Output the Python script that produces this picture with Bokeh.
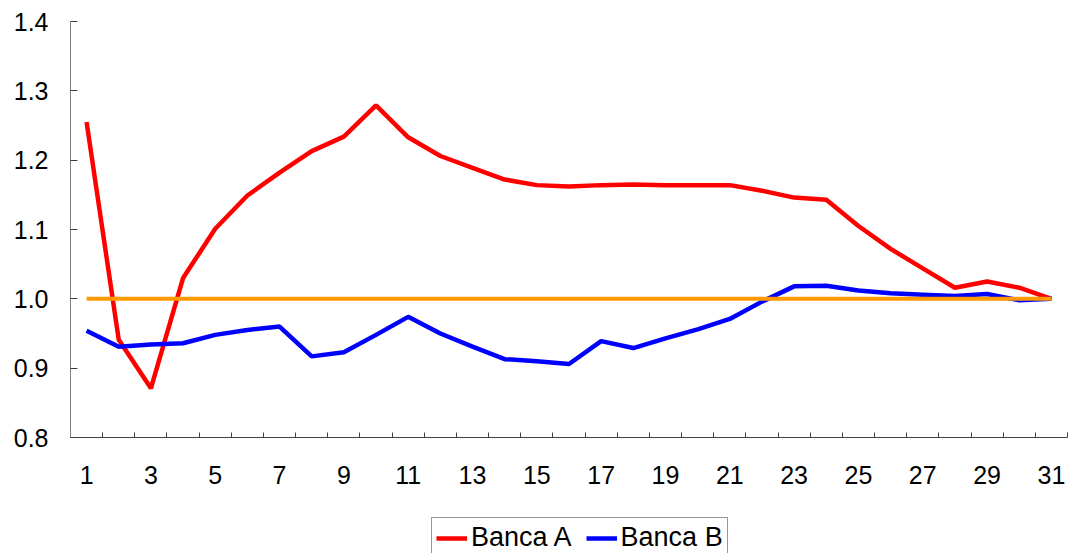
from bokeh.plotting import figure
from bokeh.layouts import column
from bokeh.models import Range1d, FixedTicker, Legend, LegendItem, CustomJSTickFormatter
from bokeh.embed import file_html
from bokeh.resources import INLINE

days = list(range(1, 32))
banca_a = [1.255, 0.941, 0.871, 1.030, 1.101, 1.149, 1.182, 1.213, 1.234, 1.279,
           1.233, 1.206, 1.189, 1.172, 1.164, 1.162, 1.164, 1.165, 1.164, 1.164,
           1.164, 1.156, 1.146, 1.143, 1.105, 1.072, 1.044, 1.016, 1.025, 1.016, 1.000]
banca_b = [0.954, 0.931, 0.934, 0.936, 0.948, 0.955, 0.960, 0.917, 0.923, 0.948,
           0.974, 0.950, 0.931, 0.913, 0.910, 0.906, 0.939, 0.929, 0.943, 0.956,
           0.971, 0.996, 1.018, 1.019, 1.012, 1.008, 1.006, 1.004, 1.007, 0.998, 1.000]
reference = [1.0] * 31
x_labels = list(range(1, 32, 2))
y_ticks = [0.8, 0.9, 1.0, 1.1, 1.2, 1.3, 1.4]
series_names = ["Banca A", "Banca B"]

FONT = "Liberation Sans"
RED, BLUE, ORANGE = "#FF0000", "#0000FF", "#FF9900"
NAN = float("nan")

p = figure(width=1068, height=510, output_backend="svg", toolbar_location=None,
           x_range=Range1d(0.5, 31.5), y_range=Range1d(0.8, 1.4),
           min_border_left=70, min_border_right=1, min_border_top=21,
           min_border_bottom=73)
p.outline_line_color = None
p.xgrid.grid_line_color = None
p.ygrid.grid_line_color = None
p.background_fill_color = "white"
p.border_fill_color = "white"

# x axis: labels on odd days, small inward ticks between categories
p.xaxis.ticker = FixedTicker(ticks=x_labels,
                             minor_ticks=[d + 0.5 for d in range(0, 32)])
p.xaxis.major_tick_in = 0
p.xaxis.major_tick_out = 0
p.xaxis.minor_tick_in = 5
p.xaxis.minor_tick_out = 0
p.xaxis.minor_tick_line_color = "#404040"
p.xaxis.axis_line_color = "#404040"
p.xaxis.major_label_text_font = FONT
p.xaxis.major_label_text_font_size = "25px"
p.xaxis.major_label_text_color = "black"
p.xaxis.major_label_standoff = 28

# y axis
p.yaxis.ticker = FixedTicker(ticks=y_ticks, minor_ticks=[])
p.yaxis.formatter = CustomJSTickFormatter(code="return tick.toFixed(1);")
p.yaxis.major_tick_in = 7
p.yaxis.major_tick_out = 0
p.yaxis.major_tick_line_color = "#404040"
p.yaxis.axis_line_color = "#808080"
p.yaxis.major_label_text_font = FONT
p.yaxis.major_label_text_font_size = "25px"
p.yaxis.major_label_text_color = "black"
p.yaxis.major_label_standoff = 22

p.line(days, banca_a, line_color=RED, line_width=4.5)
p.line(days, banca_b, line_color=BLUE, line_width=4.5)
p.line(days, reference, line_color=ORANGE, line_width=4)

# legend strip below the chart
lg = figure(width=1068, height=43, output_backend="svg", toolbar_location=None,
            x_range=Range1d(0, 1), y_range=Range1d(0, 1),
            x_axis_location=None, y_axis_location=None, min_border=0)
lg.outline_line_color = None
lg.grid.grid_line_color = None
lg.background_fill_color = "white"
lg.border_fill_color = "white"
# legend swatches (no visible data)
sa = lg.line([NAN], [NAN], line_color=RED, line_width=4.5)
sb = lg.line([NAN], [NAN], line_color=BLUE, line_width=4.5)

legend = Legend(items=[LegendItem(label=series_names[0], renderers=[sa]),
                       LegendItem(label=series_names[1], renderers=[sb])],
                location=(361, -5), orientation="horizontal")
legend.label_text_font = FONT
legend.label_text_font_size = "27px"
legend.label_text_color = "black"
legend.glyph_width = 31
legend.glyph_height = 20
legend.label_standoff = 4
legend.spacing = 14
legend.padding = 4
legend.margin = 0
legend.border_line_color = "#303030"
legend.border_line_width = 1
legend.background_fill_color = "white"
legend.background_fill_alpha = 1
lg.add_layout(legend, "center")

open("out.html", "w").write(file_html(column(p, lg, spacing=0), INLINE))
